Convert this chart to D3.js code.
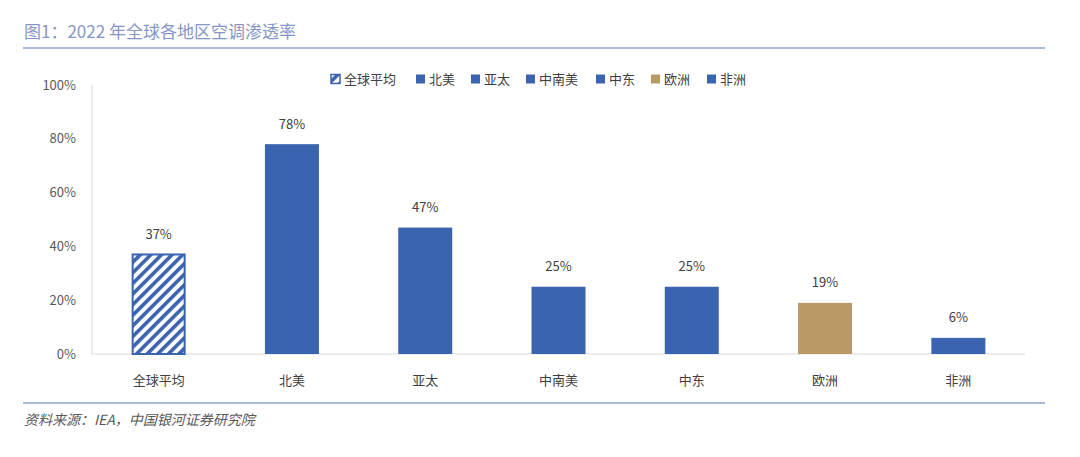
<!DOCTYPE html>
<html>
<head>
<meta charset="utf-8">
<script src="https://cdn.jsdelivr.net/npm/d3@7"></script>
<style>
  body { margin: 0; background: #fff; }
  svg { display: block; font-family: "Noto Sans CJK SC", "Noto Sans", sans-serif; }
</style>
</head>
<body>
<svg id="chart" width="1080" height="457"></svg>
<script>
// Chart data
const regions = ['全球平均', '北美', '亚太', '中南美', '中东', '欧洲', '非洲'];
const rates = [37, 78, 47, 25, 25, 19, 6];
const yTicks = [0, 20, 40, 60, 80, 100];

const BLUE = '#3a63b0';
const BROWN = '#b99a66';
const barColor = (d, i) => i === 5 ? BROWN : BLUE;

const svg = d3.select('#chart');

// Hatch pattern for the global average bar
const defs = svg.append('defs');
const pat = defs.append('pattern')
  .attr('id', 'hatch')
  .attr('patternUnits', 'userSpaceOnUse')
  .attr('width', 7.5)
  .attr('height', 7.5)
  .attr('patternTransform', 'rotate(45)');
pat.append('rect').attr('width', 7.5).attr('height', 7.5).attr('fill', '#fff');
pat.append('rect').attr('width', 3.6).attr('height', 7.5).attr('fill', BLUE);

// Header
svg.append('text')
  .attr('x', 24).attr('y', 38)
  .attr('font-size', 17)
  .attr('fill', '#8597c8')
  .text('图1：2022 年全球各地区空调渗透率');
svg.append('line')
  .attr('x1', 23).attr('x2', 1045).attr('y1', 48).attr('y2', 48)
  .attr('stroke', '#8ea2d2').attr('stroke-width', 1.5);

// Scales
const margin = { left: 92, right: 1025, top: 85, bottom: 354 };
const x = d3.scaleBand().domain(regions).range([margin.left, margin.right]).paddingInner(0.6).paddingOuter(0.3);
const y = d3.scaleLinear().domain([0, 100]).range([margin.bottom, margin.top]);

// Axes lines
svg.append('line')
  .attr('x1', margin.left).attr('x2', margin.left)
  .attr('y1', margin.top).attr('y2', margin.bottom)
  .attr('stroke', '#d9d9d9');
svg.append('line')
  .attr('x1', margin.left).attr('x2', margin.right)
  .attr('y1', margin.bottom).attr('y2', margin.bottom)
  .attr('stroke', '#d9d9d9');

// Y tick labels
svg.append('g').selectAll('text')
  .data(yTicks)
  .join('text')
  .attr('x', 76)
  .attr('y', d => y(d))
  .attr('dy', '0.35em')
  .attr('text-anchor', 'end')
  .attr('font-size', 13)
  .attr('fill', '#595959')
  .text(d => d + '%');

// Bars
const bw = 54;
const cx = d => x(d) + x.bandwidth() / 2;
svg.append('g').selectAll('rect')
  .data(rates)
  .join('rect')
  .attr('x', (d, i) => cx(regions[i]) - bw / 2 + (i === 0 ? 1 : 0))
  .attr('y', d => y(d) + 0)
  .attr('width', (d, i) => i === 0 ? bw - 2 : bw)
  .attr('height', d => y(0) - y(d) - 0)
  .attr('fill', (d, i) => i === 0 ? 'url(#hatch)' : barColor(d, i))
  .attr('stroke', (d, i) => i === 0 ? BLUE : 'none')
  .attr('stroke-width', 2);

// Value labels
svg.append('g').selectAll('text')
  .data(rates)
  .join('text')
  .attr('x', (d, i) => cx(regions[i]))
  .attr('y', d => y(d) - 20)
  .attr('dy', '0.35em')
  .attr('text-anchor', 'middle')
  .attr('font-size', 13)
  .attr('fill', '#404040')
  .text(d => d + '%');

// Category labels
svg.append('g').selectAll('text')
  .data(regions)
  .join('text')
  .attr('x', d => cx(d))
  .attr('y', 380)
  .attr('dy', '0.35em')
  .attr('text-anchor', 'middle')
  .attr('font-size', 13)
  .attr('fill', '#404040')
  .text(d => d);

// Legend
const legendX = [331, 416, 471, 526, 596, 651, 707];
const legend = svg.append('g').selectAll('g')
  .data(regions)
  .join('g')
  .attr('transform', (d, i) => `translate(${legendX[i]},79)`);
legend.append('rect')
  .attr('x', 0).attr('y', -4.5)
  .attr('width', 9).attr('height', 9)
  .attr('fill', (d, i) => i === 0 ? 'url(#hatch)' : barColor(d, i))
  .attr('stroke', (d, i) => i === 0 ? BLUE : 'none')
  .attr('stroke-width', 1.5);
legend.append('text')
  .attr('x', 13).attr('y', 0)
  .attr('dy', '0.35em')
  .attr('font-size', 13)
  .attr('fill', '#404040')
  .text(d => d);

// Footer
svg.append('line')
  .attr('x1', 23).attr('x2', 1045).attr('y1', 403).attr('y2', 403)
  .attr('stroke', '#8ea2d2').attr('stroke-width', 1.5);
svg.append('text')
  .attr('x', 24).attr('y', 425)
  .attr('font-size', 14)
  .attr('font-style', 'italic')
  .attr('fill', '#595959')
  .text('资料来源：IEA，中国银河证券研究院');
</script>
</body>
</html>
